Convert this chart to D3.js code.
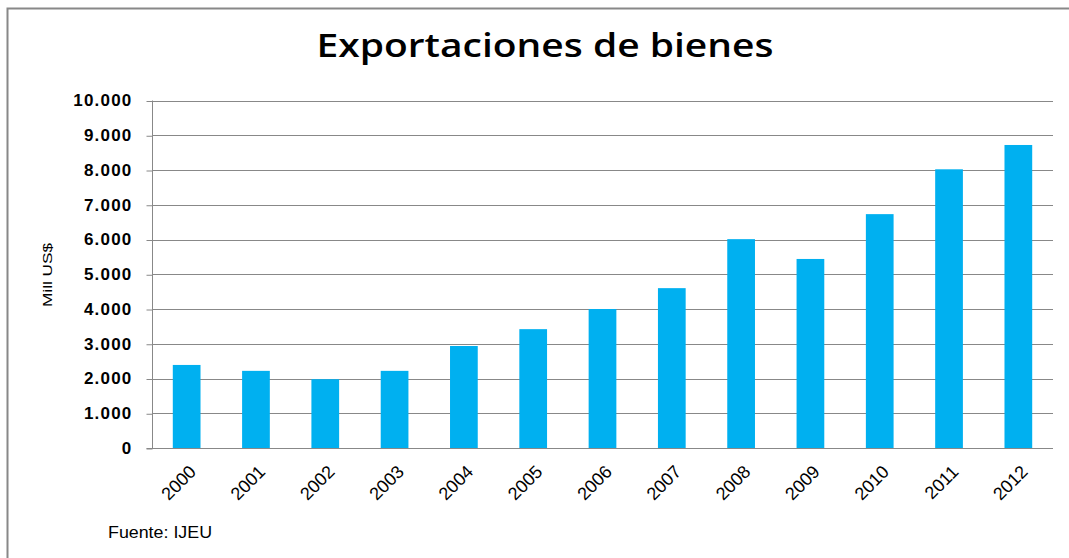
<!DOCTYPE html>
<html>
<head>
<meta charset="utf-8">
<script src="https://cdn.jsdelivr.net/npm/d3@7"></script>
<style>
  body { margin: 0; background: #fff; }
</style>
</head>
<body>
<script>
var years = ["2000", "2001", "2002", "2003", "2004", "2005", "2006",
             "2007", "2008", "2009", "2010", "2011", "2012"];
var exportsMill = [2390, 2220, 1980, 2220, 2935, 3420, 4000,
                   4600, 6010, 5440, 6730, 8020, 8720];
var yTicks = [0, 1000, 2000, 3000, 4000, 5000, 6000, 7000, 8000, 9000, 10000];

function init(){
    var w = 1069;
    var h = 558;
    var left = 152, right = 1053, top = 100.5, bottom = 448;

    var svg = d3.select("body")
                .append("svg")
                .attr("width", w)
                .attr("height", h);

    // outer frame
    svg.append("rect")
       .attr("x", 7.5)
       .attr("y", 8.5)
       .attr("width", w + 10)
       .attr("height", h + 10)
       .attr("fill", "none")
       .attr("stroke", "#888")
       .attr("stroke-width", 2);

    var xScale = d3.scaleBand()
                   .domain(years)
                   .range([left, right])
                   .paddingInner(0.6)
                   .paddingOuter(0.3);

    var yScale = d3.scaleLinear()
                   .domain([0, 10000])
                   .range([bottom, top]);

    // gridlines
    svg.append("g")
       .selectAll("line")
       .data(yTicks.slice(1))
       .enter()
       .append("line")
       .attr("x1", left)
       .attr("x2", right)
       .attr("y1", function(d) { return Math.round(yScale(d)) + 0.5; })
       .attr("y2", function(d) { return Math.round(yScale(d)) + 0.5; })
       .attr("stroke", "#888")
       .attr("stroke-width", 1);

    // bars
    svg.append("g")
       .selectAll("rect")
       .data(exportsMill)
       .enter()
       .append("rect")
       .attr("x", function(d, i) { return xScale(years[i]); })
       .attr("y", function(d) { return yScale(d); })
       .attr("width", xScale.bandwidth())
       .attr("height", function(d) { return bottom - yScale(d); })
       .attr("fill", "#00b0f0");

    // y axis
    var fmt = function(d) { return d3.format(",")(d).replace(/,/g, "."); };
    var yAxis = d3.axisLeft(yScale)
                  .tickValues(yTicks)
                  .tickSize(6)
                  .tickPadding(14)
                  .tickFormat(fmt);
    var gy = svg.append("g")
                .attr("transform", "translate(" + (left + 0.5) + ",0)")
                .call(yAxis);
    gy.select(".domain").attr("stroke", "#888").attr("d", "M-6," + (bottom + 0.5) + "H0V" + top);
    gy.selectAll(".tick line").attr("stroke", "#888").attr("transform", "translate(0,0.5)");
    gy.selectAll(".tick text")
      .attr("font-family", "Liberation Sans, Arial, sans-serif")
      .attr("font-size", 17)
      .attr("font-weight", "bold")
      .attr("letter-spacing", 1.2)
      .attr("fill", "#000");

    // x axis
    var xAxis = d3.axisBottom(xScale).tickSize(0);
    var gx = svg.append("g")
                .attr("transform", "translate(0," + (bottom + 0.5) + ")")
                .call(xAxis);
    gx.select(".domain").attr("stroke", "#888").attr("d", "M" + left + ",0H" + right);
    gx.selectAll(".tick text")
      .attr("font-family", "Liberation Sans, Arial, sans-serif")
      .attr("font-size", 18)
      .attr("fill", "#000")
      .attr("text-anchor", "end")
      .attr("x", 0)
      .attr("y", 0)
      .attr("dy", "0.35em")
      .attr("transform", "translate(6,20) rotate(-45)");

    // title
    svg.append("text")
       .attr("x", 545)
       .attr("y", 57)
       .attr("text-anchor", "middle")
       .attr("font-family", "Open Sans, sans-serif")
       .attr("font-weight", 600)
       .attr("font-size", 33)
       .attr("textLength", 457)
       .attr("lengthAdjust", "spacingAndGlyphs")
       .text("Exportaciones de bienes");

    // y axis title
    svg.append("text")
       .attr("transform", "translate(52,275) rotate(-90)")
       .attr("text-anchor", "middle")
       .attr("font-family", "Liberation Sans Narrow, Liberation Sans, sans-serif")
       .attr("font-size", 12)
       .attr("textLength", 64)
       .attr("lengthAdjust", "spacingAndGlyphs")
       .text("Mill US$");

    // source
    svg.append("text")
       .attr("x", 108)
       .attr("y", 538)
       .attr("font-family", "Liberation Sans, sans-serif")
       .attr("font-size", 16)
       .attr("textLength", 104)
       .attr("lengthAdjust", "spacingAndGlyphs")
       .text("Fuente: IJEU");
}
window.onload = init;
</script>
</body>
</html>
